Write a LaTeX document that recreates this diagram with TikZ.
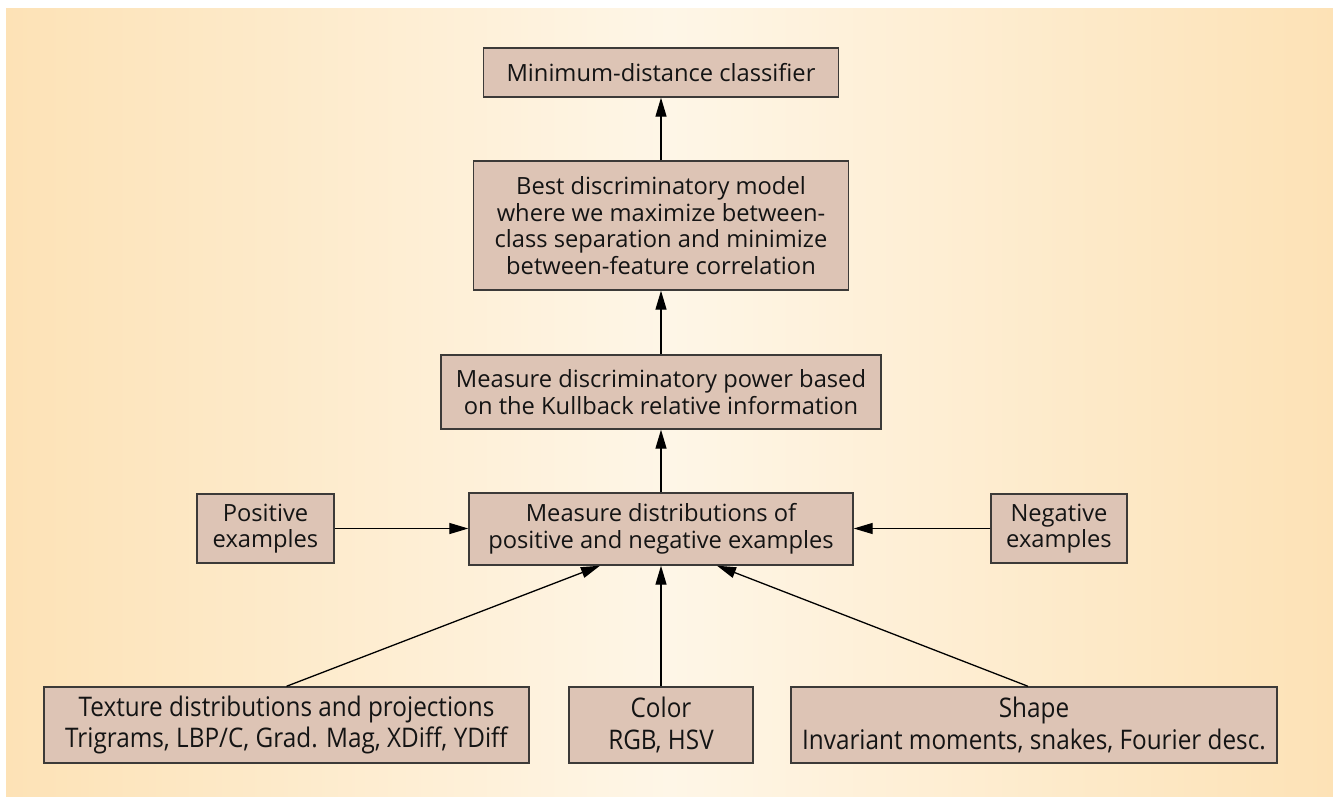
\documentclass[tikz,border=0pt]{standalone}
\usepackage{fontspec}
\setmainfont{Open Sans}
\newfontfamily\condfont[FakeStretch=0.9]{Open Sans}
\usepackage{xcolor}
\usepackage{tikz}
\usetikzlibrary{arrows.meta,calc,positioning}

\definecolor{bgedge}{HTML}{FDE2B6}
\definecolor{bgmid}{HTML}{FEF6E7}
\definecolor{boxfill}{HTML}{DDC4B5}
\definecolor{boxline}{HTML}{3C3A38}

\begin{document}
\begin{tikzpicture}[x=1pt,y=-1pt,
    box/.style={draw=boxline, line width=1.4pt, fill=boxfill, align=center, inner sep=0pt,
        text=black!92, font=\fontsize{23.7}{26.5}\selectfont},
    cond/.style={box, font=\condfont\fontsize{27}{31.5}\selectfont},
    link/.style={line width=1.3pt, -{Triangle[length=19pt,width=11pt]}}]

    % page and shaded background
    \useasboundingbox (0,0) rectangle (1333,797);
    \shade[left color=bgedge, right color=bgedge, middle color=bgmid] (6,9) rectangle (1333,797);

    % main column
    \node[box, minimum width=355, minimum height=49] (cls) at (661,72.5) {Minimum-distance classifier};
    \node[box, minimum width=375, minimum height=129] (best) at (661,225.5)
        {Best discriminatory model\\where we maximize between-\\class separation and minimize\\between-feature correlation};
    \node[box, minimum width=440, minimum height=74] (kull) at (661,392)
        {Measure discriminatory power based\\on the Kullback relative information};
    \node[box, minimum width=384, minimum height=72] (dist) at (661,529)
        {Measure distributions of\\positive and negative examples};

    % examples
    \node[box, minimum width=137, minimum height=69] (pos) at (265.5,528.5) {Positive\\examples};
    \node[box, minimum width=136, minimum height=69] (neg) at (1059,528.5) {Negative\\examples};

    % features
    \node[cond, minimum width=485, minimum height=76] (tex) at (286.5,725)
        {Texture distributions and projections\\Trigrams, LBP/C, Grad. Mag, XDiff, YDiff};
    \node[cond, minimum width=184, minimum height=76] (col) at (661,725) {Color\\RGB, HSV};
    \node[cond, minimum width=486, minimum height=76] (shp) at (1034,725)
        {Shape\\Invariant moments, snakes, Fourier desc.};

    % connectors
    \draw[link] (best.north) -- (best.north |- cls.south);
    \draw[link] (kull.north) -- (kull.north |- best.south);
    \draw[link] (dist.north) -- (dist.north |- kull.south);
    \draw[link] (pos.east) -- (pos.east -| dist.west);
    \draw[link] (neg.west) -- (neg.west -| dist.east);
    \draw[link] (tex.north) -- ($(dist.south)+(-61,0)$);
    \draw[link] (col.north) -- (col.north |- dist.south);
    \draw[link] ($(shp.north)+(-6,0)$) -- ($(dist.south)+(56,0)$);
\end{tikzpicture}
\end{document}
